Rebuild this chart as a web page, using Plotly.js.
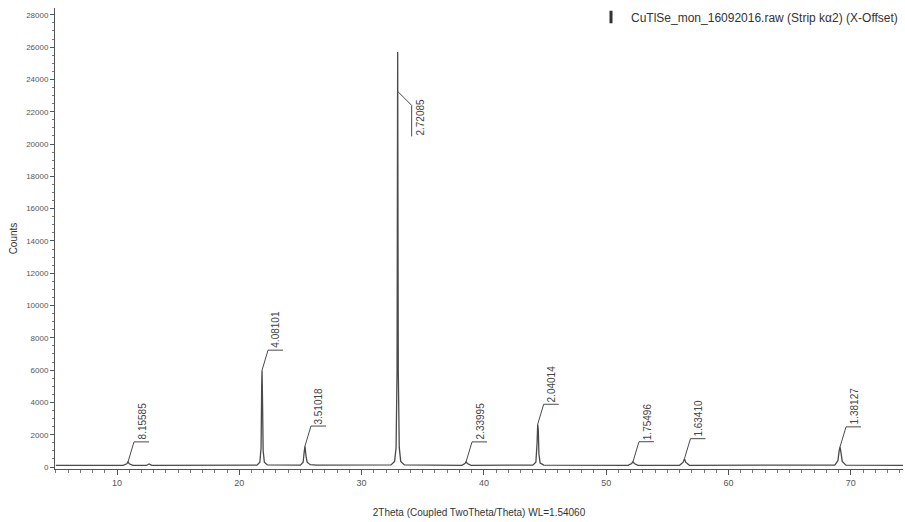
<!DOCTYPE html>
<html>
<head>
<meta charset="utf-8">
<script src="https://cdn.plot.ly/plotly-3.0.1.min.js"></script>
<style>html,body{margin:0;padding:0;background:#fff}#chart{width:905px;height:522px}</style>
</head>
<body>
<div id="chart"></div>
<script>
// Diffractogram profile (2Theta in degrees, Counts)
var twoTheta = [5, 10.5, 10.8, 10.9, 11.0, 11.3, 12.4, 12.62, 12.85,
  21.45, 21.68, 21.78, 21.83, 21.86, 21.9, 21.95, 22.05, 22.3,
  25.0, 25.22, 25.3, 25.37, 25.45, 25.55, 25.8, 26.3,
  32.4, 32.7, 32.82, 32.9, 32.95, 33.0, 33.08, 33.2, 33.5,
  38.2, 38.45, 38.54, 38.65, 38.95,
  44.0, 44.25, 44.35, 44.4, 44.45, 44.5, 44.6, 44.9,
  51.8, 52.08, 52.19, 52.3, 52.6,
  56.0, 56.3, 56.4, 56.5, 56.8,
  68.7, 68.95, 69.05, 69.12, 69.2, 69.3, 69.6, 74.3];
var counts = [100, 110, 200, 320, 200, 110, 100, 190, 100,
  120, 300, 1200, 5000, 6000, 4000, 1000, 300, 130,
  120, 300, 900, 1300, 700, 300, 150, 120,
  130, 350, 1200, 6000, 25700, 6000, 1200, 350, 130,
  110, 220, 320, 220, 110,
  120, 300, 1500, 2650, 2300, 800, 250, 120,
  110, 220, 330, 220, 110,
  110, 300, 520, 300, 110,
  120, 400, 1000, 1250, 900, 350, 120, 100];

// Peak labels (d-spacings) and the peaks they mark
var peakTwoTheta = [10.9, 21.86, 25.37, 32.95, 38.54, 44.4, 52.19, 56.4, 69.12];
var peakCounts   = [320, 6000, 1300, 25700, 320, 2650, 330, 520, 1250];
var dLabels = ["8.15585", "4.08101", "3.51018", "2.72085", "2.33995", "2.04014", "1.75496", "1.63410", "1.38127"];

var seriesName = "CuTlSe_mon_16092016.raw (Strip k\u03b12) (X-Offset)";
var xTitle = "2Theta (Coupled TwoTheta/Theta) WL=1.54060";
var yTitle = "Counts";

var lineColor = "#4a4a4a";
var textColor = "#444";
var fontFam = "Liberation Sans, Arial, sans-serif";

var traces = [
  {type: "scatter", mode: "lines", x: twoTheta, y: counts,
   line: {color: lineColor, width: 1.3}, showlegend: false, hoverinfo: "skip"},
  {type: "scatter", mode: "markers", x: [null], y: [null], name: seriesName,
   marker: {symbol: "line-ns-open", size: 9, color: "#333", line: {width: 3, color: "#333"}},
   showlegend: true}
];

var maxCount = Math.max.apply(null, peakCounts);
var shapes = [], annotations = [];
peakTwoTheta.forEach(function (px, i) {
  var py = peakCounts[i];
  var common = {type: "line", xref: "x", yref: "y", xsizemode: "pixel", ysizemode: "pixel",
                xanchor: px, line: {color: lineColor, width: 1}};
  if (py === maxCount) {
    var ay = py * 0.905;
    shapes.push(Object.assign({}, common, {yanchor: ay, x0: 0, y0: 0, x1: 14, y1: -14}));
    shapes.push(Object.assign({}, common, {yanchor: ay, x0: 14, y0: -14, x1: 14, y1: -45}));
    annotations.push({x: px, y: ay, xref: "x", yref: "y", text: dLabels[i], showarrow: false,
      textangle: -90, xanchor: "center", yanchor: "top", xshift: 23, yshift: -6, borderpad: 0,
      font: {family: fontFam, size: 10, color: textColor}});
  } else {
    shapes.push(Object.assign({}, common, {yanchor: py, x0: 0, y0: 0, x1: 6, y1: 20}));
    shapes.push(Object.assign({}, common, {yanchor: py, x0: 6, y0: 20, x1: 21, y1: 20}));
    annotations.push({x: px, y: py, xref: "x", yref: "y", text: dLabels[i], showarrow: false,
      textangle: -90, xanchor: "center", yanchor: "bottom", xshift: 14, yshift: 21, borderpad: 0,
      font: {family: fontFam, size: 10, color: textColor}});
  }
});

var layout = {
  width: 905, height: 522,
  margin: {l: 55, r: 2, t: 3, b: 53},
  paper_bgcolor: "#fff", plot_bgcolor: "#fff",
  font: {family: fontFam, color: textColor},
  showlegend: true,
  legend: {x: 1, xanchor: "right", y: 1.012, yanchor: "top", bgcolor: "rgba(0,0,0,0)",
           font: {family: fontFam, size: 12, color: "#333"}},
  xaxis: {range: [4.93, 74.27], showgrid: false, zeroline: false, showline: true,
          linecolor: "#555", linewidth: 1, ticks: "outside", ticklen: 5, tickcolor: "#555",
          dtick: 10, tick0: 0, tickfont: {size: 9, color: "#555"},
          minor: {dtick: 1, ticks: "outside", ticklen: 3, tickcolor: "#777", showgrid: false},
          title: {text: xTitle, font: {size: 10, color: "#333"}, standoff: 22}},
  yaxis: {range: [-120, 28420], showgrid: false, zeroline: false, showline: true,
          linecolor: "#555", linewidth: 1, ticks: "outside", ticklen: 4, tickcolor: "#555",
          dtick: 2000, tick0: 0, tickformat: "d", tickfont: {size: 8, color: "#555"},
          minor: {dtick: 500, ticks: "outside", ticklen: 2, tickcolor: "#777", showgrid: false},
          title: {text: yTitle, font: {size: 10, color: "#333"}, standoff: 6}},
  shapes: shapes,
  annotations: annotations
};

Plotly.newPlot("chart", traces, layout, {displayModeBar: false, staticPlot: true});
</script>
</body>
</html>
